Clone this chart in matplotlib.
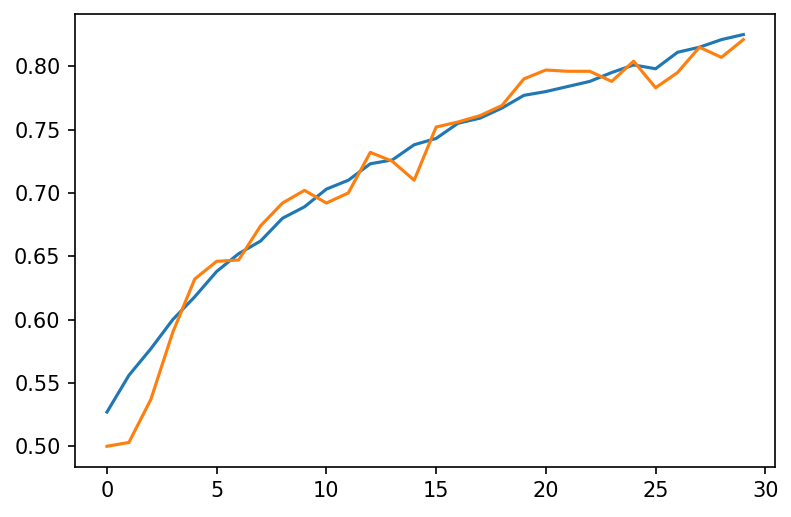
import matplotlib
matplotlib.use("Agg")
import matplotlib.pyplot as plt

epochs = list(range(30))
train_acc = [0.527, 0.556, 0.577, 0.600, 0.618, 0.638, 0.652, 0.662, 0.680, 0.689,
             0.703, 0.710, 0.723, 0.726, 0.738, 0.743, 0.755, 0.759, 0.767, 0.777,
             0.780, 0.784, 0.788, 0.795, 0.801, 0.798, 0.811, 0.815, 0.821, 0.825]
val_acc = [0.500, 0.503, 0.537, 0.590, 0.632, 0.646, 0.647, 0.674, 0.692, 0.702,
           0.692, 0.700, 0.732, 0.725, 0.710, 0.752, 0.756, 0.761, 0.769, 0.790,
           0.797, 0.796, 0.796, 0.788, 0.804, 0.783, 0.795, 0.815, 0.807, 0.821]

fig = plt.figure(figsize=(791 / 150, 517 / 150), dpi=150)
ax = fig.add_subplot(111)
fig.subplots_adjust(left=0.095, right=0.98, top=0.973, bottom=0.097)

ax.plot(epochs, train_acc)
ax.plot(epochs, val_acc)
ax.set_xticks([0, 5, 10, 15, 20, 25, 30])

fig.savefig("out.png", dpi=150)
